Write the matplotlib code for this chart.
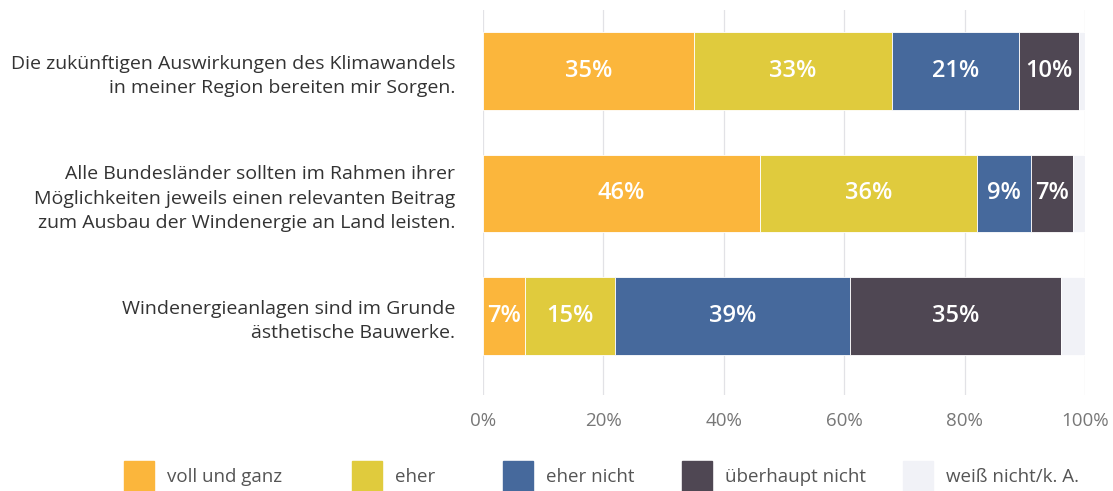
import matplotlib.pyplot as plt
from matplotlib.patches import Rectangle

# =====================================================
# DATA
# =====================================================

statements = [
    "Die zukünftigen Auswirkungen des Klimawandels\nin meiner Region bereiten mir Sorgen.",
    "Alle Bundesländer sollten im Rahmen ihrer\nMöglichkeiten jeweils einen relevanten Beitrag\nzum Ausbau der Windenergie an Land leisten.",
    "Windenergieanlagen sind im Grunde\nästhetische Bauwerke.",
]

answers = ["voll und ganz", "eher", "eher nicht", "überhaupt nicht", "weiß nicht/k. A."]

voll_und_ganz = [35, 46, 7]
eher = [33, 36, 15]
eher_nicht = [21, 9, 39]
ueberhaupt_nicht = [10, 7, 35]
weiss_nicht = [1, 2, 4]

tick_values = [0, 20, 40, 60, 80, 100]
tick_labels = ["0%", "20%", "40%", "60%", "80%", "100%"]

# =====================================================
# STYLE
# =====================================================

colors = ["#FBB63C", "#E0CB3D", "#46699C", "#4F4753", "#F1F2F7"]
text_color = "#333333"
font = ["Open Sans", "DejaVu Sans"]

plt.rcParams['font.family'] = font

fig = plt.figure(figsize=(11.13, 4.91), dpi=100)
ax = fig.add_axes([483 / 1113, 1 - 395 / 491, 602 / 1113, 385 / 491])

series = [voll_und_ganz, eher, eher_nicht, ueberhaupt_nicht, weiss_nicht]
positions = list(range(len(statements)))

left = [0] * len(statements)
for i, values in enumerate(series):
    bars = ax.barh(positions, values, left=left, height=0.63,
                   color=colors[i], edgecolor="white", linewidth=0.6, zorder=2)
    if i < 4:
        for bar, v in zip(bars, values):
            ax.text(bar.get_x() + bar.get_width() / 2,
                    bar.get_y() + bar.get_height() / 2,
                    f"{v}%", ha="center", va="center",
                    color="white", fontsize=17, fontweight="semibold", zorder=3)
    left = [l + v for l, v in zip(left, values)]

ax.set_xlim(0, 100)
ax.set_ylim(2.645, -0.498)

# gridlines
ax.set_xticks(tick_values)
ax.grid(axis="x", color="#e2e2e6", linewidth=0.9, zorder=0)
ax.set_xticklabels(tick_labels, color="#777777", fontsize=13.5)
ax.tick_params(axis="x", length=0, pad=12)

ax.set_yticks(positions)
ax.set_yticklabels(statements, fontsize=14, color=text_color,
                   ha="right", linespacing=1.45)
ax.tick_params(axis="y", length=0, pad=20)

for spine in ax.spines.values():
    spine.set_visible(False)

# =====================================================
# LEGEND
# =====================================================

legend_x = [124, 352, 503, 682, 903]
for i, name in enumerate(answers):
    x0 = legend_x[i] / 1113
    fig.patches.append(Rectangle((x0, 0), 30 / 1113, 30 / 491,
                                 transform=fig.transFigure,
                                 color=colors[i], zorder=1))
    fig.text(x0 + 43 / 1113, 1 - 477 / 491, name, fontsize=13.5,
             color="#555555", va="center", ha="left")

fig.savefig("out.png", dpi=100, facecolor="white")
